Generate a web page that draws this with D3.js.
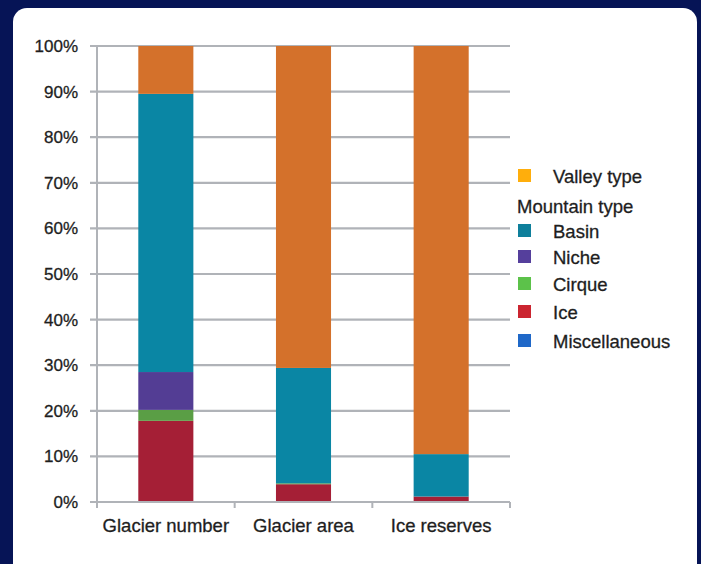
<!DOCTYPE html>
<html>
<head>
<meta charset="utf-8">
<script src="https://cdn.jsdelivr.net/npm/d3@7"></script>
<style>
  body { margin: 0; background: #061456; }
  svg { display: block; font-family: "Liberation Sans", Arial, sans-serif; }
</style>
</head>
<body>
<div id="chart"></div>
<script>
// categories and series (percent of total)
const categories = ['Glacier number', 'Glacier area', 'Ice reserves'];
const seriesNames = ['Miscellaneous', 'Ice', 'Cirque', 'Niche', 'Basin', 'Valley type'];
const miscellaneous = [0, 0, 0];
const ice = [17.8, 3.9, 1.2];
const cirque = [2.4, 0.2, 0];
const niche = [8.3, 0, 0];
const basin = [61.0, 25.3, 9.3];
const valley = [10.5, 70.6, 89.5];
const yTicks = [0, 10, 20, 30, 40, 50, 60, 70, 80, 90, 100];

const barColors = {
    'Miscellaneous': '#1f6ac4',
    'Ice': '#a51f36',
    'Cirque': '#5a9e45',
    'Niche': '#533d94',
    'Basin': '#0a86a4',
    'Valley type': '#d4712b'
};

// legend entries (legend swatches use their own colours)
const legendItems = [
    { name: 'Valley type', color: '#ffae0c', y: 183, indent: true },
    { name: 'Mountain type', color: null, y: 213, indent: false },
    { name: 'Basin', color: '#0e7f9b', y: 238, indent: true },
    { name: 'Niche', color: '#553f9c', y: 264, indent: true },
    { name: 'Cirque', color: '#5cc24a', y: 291, indent: true },
    { name: 'Ice', color: '#cb2530', y: 319, indent: true },
    { name: 'Miscellaneous', color: '#1f68c8', y: 348, indent: true }
];

const width = 701;
const height = 564;

const svg = d3.select('#chart').append('svg')
    .attr('width', width)
    .attr('height', height);

// white rounded panel
svg.append('rect')
    .attr('x', 13)
    .attr('y', 8)
    .attr('width', 684)
    .attr('height', 575)
    .attr('rx', 14)
    .attr('fill', '#ffffff');

const margin = { left: 97, right: 510, top: 46, bottom: 502 };

const x = d3.scaleBand()
    .domain(categories)
    .range([margin.left, margin.right])
    .paddingInner(0.6)
    .paddingOuter(0.3);

const y = d3.scaleLinear()
    .domain([0, 100])
    .range([margin.bottom, margin.top]);

// gridlines
svg.append('g')
    .selectAll('line')
    .data(yTicks)
    .enter()
    .append('line')
    .attr('x1', margin.left - 7)
    .attr('x2', margin.right)
    .attr('y1', d => y(d))
    .attr('y2', d => y(d))
    .attr('stroke', '#b0b3b8')
    .attr('stroke-width', 2.2);

// y axis line
svg.append('line')
    .attr('x1', margin.left)
    .attr('x2', margin.left)
    .attr('y1', y(100))
    .attr('y2', y(0) + 6)
    .attr('stroke', '#b0b3b8')
    .attr('stroke-width', 2);

// y labels
svg.append('g')
    .selectAll('text')
    .data(yTicks)
    .enter()
    .append('text')
    .attr('x', 78)
    .attr('y', d => y(d) + 6)
    .attr('text-anchor', 'end')
    .style('font-size', '17px')
    .style('fill', '#1e1e1e')
    .style('stroke', '#1e1e1e')
    .style('stroke-width', 0.3)
    .text(d => d + '%');

// stacked bars
const rows = categories.map((c, i) => ({
    category: c,
    'Miscellaneous': miscellaneous[i],
    'Ice': ice[i],
    'Cirque': cirque[i],
    'Niche': niche[i],
    'Basin': basin[i],
    'Valley type': valley[i]
}));

const stack = d3.stack().keys(seriesNames);
const layers = stack(rows);

svg.append('g')
    .selectAll('g')
    .data(layers)
    .enter()
    .append('g')
    .attr('fill', d => barColors[d.key])
    .selectAll('rect')
    .data(d => d)
    .enter()
    .append('rect')
    .attr('x', d => x(d.data.category))
    .attr('width', x.bandwidth())
    .attr('y', d => y(d[1]))
    .attr('height', d => y(d[0]) - y(d[1]));

// x axis line and ticks
svg.append('line')
    .attr('x1', margin.left)
    .attr('x2', margin.right)
    .attr('y1', y(0))
    .attr('y2', y(0))
    .attr('stroke', '#b0b3b8')
    .attr('stroke-width', 2.2);

const step = (margin.right - margin.left) / categories.length;
svg.append('g')
    .selectAll('line')
    .data(d3.range(categories.length + 1))
    .enter()
    .append('line')
    .attr('x1', d => margin.left + d * step)
    .attr('x2', d => margin.left + d * step)
    .attr('y1', y(0))
    .attr('y2', y(0) + 6)
    .attr('stroke', '#b0b3b8')
    .attr('stroke-width', 2);

// category labels
svg.append('g')
    .selectAll('text')
    .data(categories)
    .enter()
    .append('text')
    .attr('x', d => x(d) + x.bandwidth() / 2)
    .attr('y', 532)
    .attr('text-anchor', 'middle')
    .style('font-size', '18.5px')
    .style('fill', '#1e1e1e')
    .style('stroke', '#1e1e1e')
    .style('stroke-width', 0.3)
    .text(d => d);

// legend
const legend = svg.append('g');
legend.selectAll('rect')
    .data(legendItems.filter(d => d.color))
    .enter()
    .append('rect')
    .attr('x', 518)
    .attr('y', d => d.y - 14)
    .attr('width', 13)
    .attr('height', 13)
    .attr('fill', d => d.color);

legend.selectAll('text')
    .data(legendItems)
    .enter()
    .append('text')
    .attr('x', d => d.indent ? 553 : 517)
    .attr('y', d => d.y)
    .style('font-size', '18.5px')
    .style('fill', '#1e1e1e')
    .style('stroke', '#1e1e1e')
    .style('stroke-width', 0.3)
    .text(d => d.name);
</script>
</body>
</html>
